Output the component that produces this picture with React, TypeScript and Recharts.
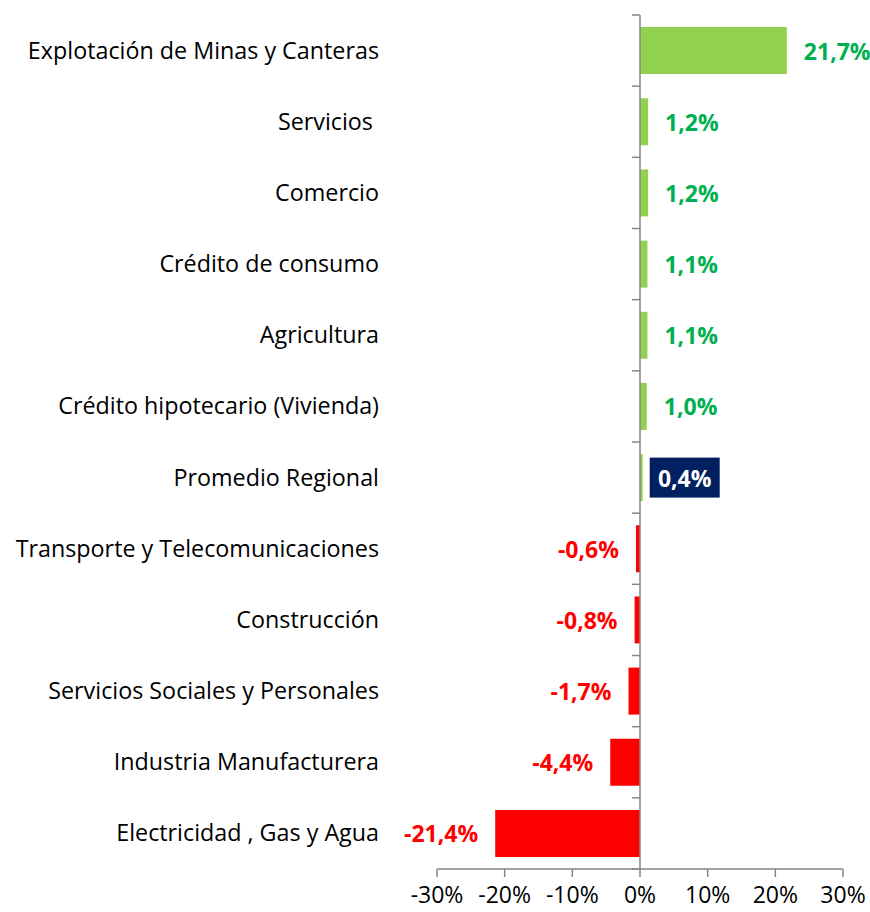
import { BarChart, Bar, XAxis, YAxis, Cell, LabelList, ReferenceLine } from "recharts";

const sectors = [
  "Explotación de Minas y Canteras",
  "Servicios ",
  "Comercio",
  "Crédito de consumo",
  "Agricultura",
  "Crédito hipotecario (Vivienda)",
  "Promedio Regional",
  "Transporte y Telecomunicaciones",
  "Construcción",
  "Servicios Sociales y Personales",
  "Industria Manufacturera",
  "Electricidad , Gas y Agua",
];
const variation = [21.7, 1.2, 1.2, 1.1, 1.1, 1.0, 0.4, -0.6, -0.8, -1.7, -4.4, -21.4];
const xTicks = [-30, -20, -10, 0, 10, 20, 30];
const highlight = "Promedio Regional";

const data = sectors.map((name, i) => ({ name, value: variation[i] }));

const W = 870;
const H = 912;
const M = { top: 15, right: 27, bottom: 0, left: 0 };
const Y_W = 437;
const X_H = 43;
const plotW = W - M.left - M.right - Y_W;
const plotH = H - M.top - M.bottom - X_H;
const band = plotH / sectors.length;
const zeroX = M.left + Y_W + ((0 - xTicks[0]) / (xTicks[xTicks.length - 1] - xTicks[0])) * plotW;

const FONT = "'Open Sans', 'Liberation Sans', Arial, sans-serif";
const GREEN_BAR = "#92D050";
const GREEN_TXT = "#00B050";
const RED = "#FF0000";
const NAVY = "#002060";
const AXIS = "#868686";

const fmt = (v: number) => `${v.toFixed(1).replace(".", ",")}%`;

function CategoryTick(props: any) {
  const { y, payload, index } = props;
  const top = y - band / 2;
  return (
    <g>
      <text
        x={379}
        y={y - 1}
        textAnchor="end"
        dominantBaseline="central"
        fontFamily={FONT}
        fontSize={23.3}
        fill="#000"
        style={{ whiteSpace: "pre" }}
      >
        {payload.value}
      </text>
      <line x1={zeroX - 8} x2={zeroX} y1={top} y2={top} stroke={AXIS} strokeWidth={1.5} />
      {index === sectors.length - 1 && (
        <line x1={zeroX - 8} x2={zeroX} y1={top + band} y2={top + band} stroke={AXIS} strokeWidth={1.5} />
      )}
    </g>
  );
}

function ValueLabel(props: any) {
  const { x, y, width, height, value, index } = props;
  const left = Math.min(x, x + width);
  const right = Math.max(x, x + width);
  const cy = y + height / 2;
  if (sectors[index] === highlight) {
    const bx = right + 7;
    return (
      <g>
        <rect x={bx} y={cy - 20} width={70} height={40} fill={NAVY} />
        <text
          x={bx + 35}
          y={cy}
          textAnchor="middle"
          dominantBaseline="central"
          fontFamily={FONT}
          fontWeight="bold"
          fontSize={23}
          fill="#fff"
        >
          {fmt(value)}
        </text>
      </g>
    );
  }
  const pos = value >= 0;
  return (
    <text
      x={pos ? right + 17 : left - 17}
      y={cy}
      textAnchor={pos ? "start" : "end"}
      dominantBaseline="central"
      fontFamily={FONT}
      fontWeight="bold"
      fontSize={23}
      fill={pos ? GREEN_TXT : RED}
    >
      {fmt(value)}
    </text>
  );
}

export default function App() {
  return (
    <div style={{ position: "absolute", left: 0, top: 0, width: W, height: H, background: "#fff" }}>
      <BarChart
        width={W}
        height={H}
        data={data}
        layout="vertical"
        margin={M}
        barCategoryGap="17%"
      >
        <XAxis
          type="number"
          domain={[xTicks[0], xTicks[xTicks.length - 1]]}
          ticks={xTicks}
          tickFormatter={(v) => `${v}%`}
          height={X_H}
          axisLine={{ stroke: AXIS, strokeWidth: 1.5 }}
          tickLine={{ stroke: AXIS, strokeWidth: 1.5 }}
          tickSize={8}
          tickMargin={10}
          tick={{ fill: "#000", fontSize: 23, fontFamily: FONT }}
          interval={0}
        />
        <YAxis
          type="category"
          dataKey="name"
          width={Y_W}
          axisLine={false}
          tickLine={false}
          tick={<CategoryTick />}
          interval={0}
        />
        <ReferenceLine x={0} stroke={AXIS} strokeWidth={1.5} />
        <Bar dataKey="value" isAnimationActive={false}>
          {data.map((d) => (
            <Cell key={d.name} fill={d.value >= 0 ? GREEN_BAR : RED} />
          ))}
          <LabelList dataKey="value" content={<ValueLabel />} />
        </Bar>
      </BarChart>
    </div>
  );
}
